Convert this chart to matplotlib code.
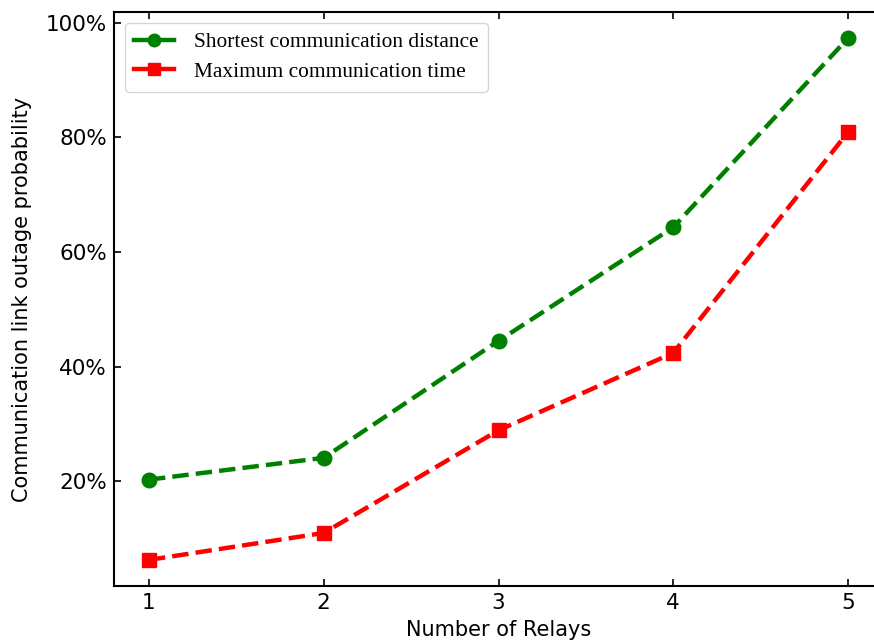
"""Outage probability vs number of relays
"""
import matplotlib
matplotlib.use("Agg")
import matplotlib.pyplot as plt
from matplotlib.lines import Line2D
from matplotlib.ticker import FuncFormatter

relays = [1, 2, 3, 4, 5]
shortest_distance = [20.3, 24.1, 44.5, 64.3, 97.3]
max_time = [6.3, 11.0, 28.9, 42.4, 80.9]
labels = ["Shortest communication distance", "Maximum communication time"]

fig = plt.figure(figsize=(8.74, 6.43), dpi=100)
ax = fig.add_axes([114 / 874, 57 / 643, 769 / 874, 574 / 643])

ax.plot(relays, shortest_distance, color="green", linestyle="--", linewidth=3.2,
        marker="o", markersize=10.5)
ax.plot(relays, max_time, color="red", linestyle="--", linewidth=3.2,
        marker="s", markersize=10.5)

ax.set_xticks(relays)
ax.yaxis.set_major_formatter(FuncFormatter(lambda v, p: "%d%%" % v))
ax.tick_params(direction="in", top=True, right=True, labelsize=15.5, length=5,
               width=1.2, pad=5)
for sp in ax.spines.values():
    sp.set_linewidth(1.5)

ax.set_xlabel("Number of Relays", fontsize=15, labelpad=5)
ax.set_ylabel("Communication link outage probability", fontsize=15, labelpad=10)

# legend shows solid lines with markers
handles = [Line2D([], [], color="green", linewidth=3.2, marker="o", markersize=9),
           Line2D([], [], color="red", linewidth=3.2, marker="s", markersize=9)]
ax.legend(handles, labels, loc="upper left",
          prop={"family": "Liberation Serif", "size": 15.4},
          handlelength=1.85, handletextpad=0.95, borderpad=0.45, labelspacing=0.45)

fig.savefig("out.png", dpi=100)
